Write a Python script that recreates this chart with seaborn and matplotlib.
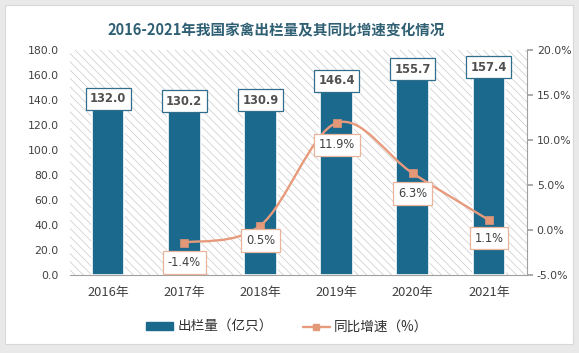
import matplotlib
matplotlib.use("Agg")
import matplotlib.pyplot as plt
import seaborn as sns
import pandas as pd
import numpy as np
from matplotlib.path import Path
from matplotlib.patches import PathPatch, Rectangle
from matplotlib.lines import Line2D
from matplotlib.patches import Patch

years = ["2016年", "2017年", "2018年", "2019年", "2020年", "2021年"]
output = [132.0, 130.2, 130.9, 146.4, 155.7, 157.4]
growth_years = ["2017年", "2018年", "2019年", "2020年", "2021年"]
growth = [-1.4, 0.5, 11.9, 6.3, 1.1]
left_ticks = [0, 20, 40, 60, 80, 100, 120, 140, 160, 180]
right_ticks = [-5, 0, 5, 10, 15, 20]
title = "2016-2021年我国家禽出栏量及其同比增速变化情况"
bar_label = "出栏量（亿只）"
line_label = "同比增速（%）"

sns.set_theme(style="white")
plt.rcParams['font.family'] = ['Noto Sans CJK SC', 'DejaVu Sans']
plt.rcParams['hatch.color'] = "#C9C9C9"
plt.rcParams['hatch.linewidth'] = 0.5

BAR = "#1B6A8D"
LINE = "#E89A7C"
MARK = "#E39878"
TXT = "#404040"

fig = plt.figure(figsize=(5.79, 3.53), dpi=100, facecolor="#E9E9E9")
fig.patches.append(Rectangle((5/579, 9/353), 568/579, 339/353, transform=fig.transFigure,
                             facecolor="white", edgecolor="#D8D8D8", lw=0.8, zorder=-10))

ax = fig.add_axes([70/579, 78/353, 457/579, 225/353])
ax.patch.set_alpha(0)
ax.add_patch(Rectangle((0, 0), 1, 1, transform=ax.transAxes, facecolor="white",
                       edgecolor="#C9C9C9", hatch="\\" * 4, lw=0, zorder=-5))

df = pd.DataFrame({"year": years, "output": output})
sns.barplot(data=df, x="year", y="output", color=BAR, width=0.43, ax=ax,
            edgecolor="white", linewidth=1.2, saturation=1, zorder=2)
ax.set_ylim(0, 180)
ax.set_yticks(left_ticks)
ax.set_yticklabels([f"{v:.1f}" for v in left_ticks], fontsize=7.8, color=TXT, family=['DejaVu Sans'])
ax.set_xlabel("")
ax.set_ylabel("")
ax.tick_params(axis="x", labelsize=9.3, labelcolor=TXT, length=0, pad=8)
ax.tick_params(axis="y", length=0, pad=8)
for s in ["left", "top", "right"]:
    ax.spines[s].set_visible(False)
ax.spines["bottom"].set_color("#A0A0A0")
ax.spines["bottom"].set_linewidth(0.8)
ax.set_xlim(-0.5, 5.5)

for i, v in enumerate(output):
    ax.annotate(f"{v:.1f}", (i, v), xytext=(0, 11), textcoords="offset pixels",
                ha="center", va="center", fontsize=8.3, fontweight="bold", color="#505050",
                family=['DejaVu Sans'],
                bbox=dict(boxstyle="square,pad=0.38", fc="white", ec="#2F6E8C", lw=0.9), zorder=6)

ax2 = ax.twinx()
ax2.set_ylim(-5, 20)
ax2.set_yticks(right_ticks)
ax2.set_yticklabels([f"{v:.1f}%" for v in right_ticks], fontsize=7.8, color=TXT, family=['DejaVu Sans'])
ax2.tick_params(axis="y", direction="out", length=4, color="#A0A0A0", pad=3)
for s in ["left", "top", "bottom"]:
    ax2.spines[s].set_visible(False)
ax2.spines["right"].set_color("#A0A0A0")
ax2.spines["right"].set_linewidth(0.8)

xs = [years.index(y) for y in growth_years]
pts = np.array(list(zip(xs, growth)), dtype=float)
verts = [tuple(pts[0])]
codes = [Path.MOVETO]
n = len(pts)
for i in range(n - 1):
    p0 = pts[i - 1] if i > 0 else pts[i]
    p1 = pts[i]
    p2 = pts[i + 1]
    p3 = pts[i + 2] if i + 2 < n else pts[i + 1]
    c1 = p1 + (p2 - p0) / 6
    c2 = p2 - (p3 - p1) / 6
    verts += [tuple(c1), tuple(c2), tuple(p2)]
    codes += [Path.CURVE4] * 3
ax2.add_patch(PathPatch(Path(verts, codes), fc="none", ec=LINE, lw=1.7, zorder=3))

gdf = pd.DataFrame({"x": xs, "g": growth})
sns.scatterplot(data=gdf, x="x", y="g", marker="s", s=34, color=MARK, edgecolor=MARK,
                ax=ax2, zorder=4, legend=False)
ax2.set_xlabel("")
ax2.set_ylabel("")
ax2.set_xlim(-0.5, 5.5)

offs = [-20, -15, -22, -20, -18]
for x, g, o in zip(xs, growth, offs):
    ax2.annotate(f"{g:.1f}%", (x, g), xytext=(0, o), textcoords="offset pixels",
                 ha="center", va="center", fontsize=8.3, color="#404040", family=['DejaVu Sans'],
                 bbox=dict(boxstyle="square,pad=0.42", fc="white", ec="#E8B49C", lw=0.9), zorder=6)

fig.text(276/579, 1 - 30/353, title, ha="center", va="center", fontsize=10.5,
         fontweight="bold", color="#2F5F73")

handles = [Patch(facecolor=BAR, edgecolor=BAR),
           Line2D([0], [0], color=LINE, lw=1.7, marker="s", markersize=5,
                  markerfacecolor=MARK, markeredgecolor=MARK)]
fig.legend(handles, [bar_label, line_label], loc="center", bbox_to_anchor=(287/579, 1 - 327/353),
           ncol=2, frameon=False, fontsize=9.8, handlelength=2.0, handleheight=0.45,
           columnspacing=2.2, handletextpad=0.3, labelcolor="#303030")

fig.savefig("out.png", dpi=100, facecolor=fig.get_facecolor())
